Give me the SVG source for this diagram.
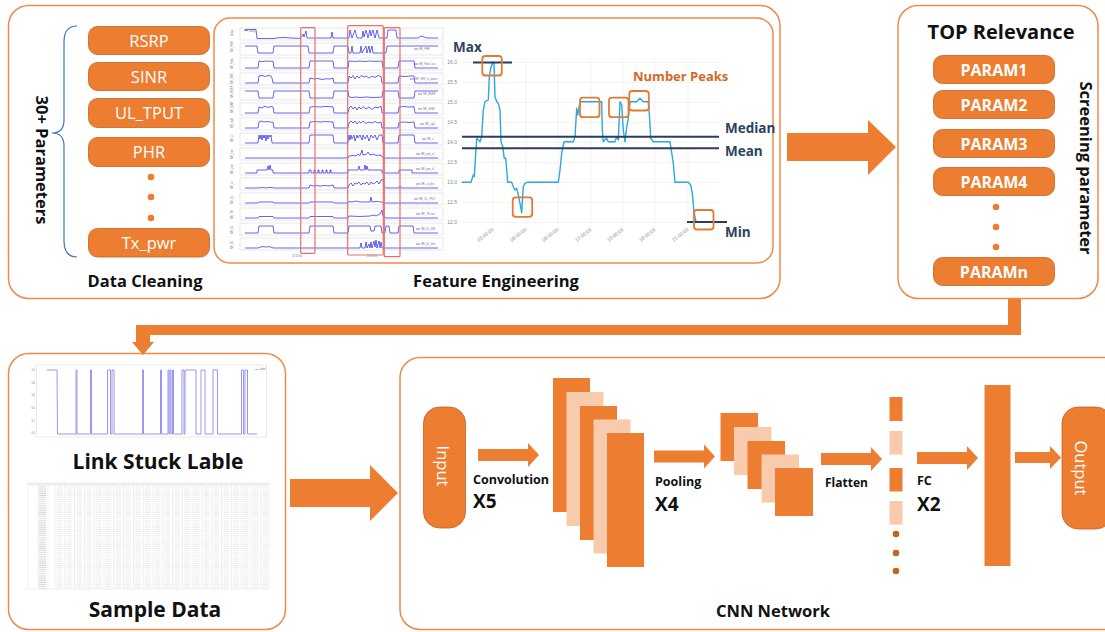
<svg xmlns="http://www.w3.org/2000/svg" width="1105" height="632" viewBox="0 0 1105 632">
  <style>
    .frame { fill: #ffffff; stroke: #EE8A4A; stroke-width: 1.5; }
    .pill { fill: #ED7D31; stroke: #C8621E; stroke-width: 0.8; }
    .dot { fill: #ED7D31; }
    .dark { fill: #C8621E; }
    .light { fill: #F8CBAD; }
    .orange { fill: #ED7D31; }
    .pt { font-family: "Open Sans", "Liberation Sans", sans-serif; font-size: 16.5px; fill: #ffffff; text-anchor: middle; }
    .pb { font-family: "Open Sans", "Liberation Sans", sans-serif; font-size: 16px; font-weight: bold; fill: #ffffff; text-anchor: middle; }
    .hd { font-family: "Open Sans", "Liberation Sans", sans-serif; font-weight: bold; fill: #111111; text-anchor: middle; }
    .cnn { font-family: "Open Sans", "Liberation Sans", sans-serif; font-weight: bold; fill: #111111; }
    .navy { font-family: "Open Sans", "Liberation Sans", sans-serif; font-weight: bold; font-size: 13.5px; fill: #2B4261; }
    .axis { font-family: "Liberation Sans", sans-serif; font-size: 5px; fill: #8a8a8a; }
    .tiny { font-family: "Liberation Sans", sans-serif; font-size: 2.6px; fill: #7a7a7a; }
    .pf { fill: #ffffff; stroke: #cfcfcf; stroke-width: 0.5; }
    .sig { fill: none; stroke: #2323E8; stroke-width: 0.7; stroke-linejoin: round; }
    .lg { stroke: #2323E8; stroke-width: 0.6; }
    .hl { fill: none; stroke: #E8706A; stroke-width: 1.2; }
    .grid { stroke: #e9e9e9; stroke-width: 0.6; }
    .stat { stroke: #2B3F5C; stroke-width: 2; }
    .peak { fill: none; stroke: #E07B35; stroke-width: 1.8; }
    .tgrid { stroke: #dcdcdc; stroke-width: 0.5; }
  </style>
  <defs>
    <!-- small arrow used between CNN stages -->
    <path id="arr" d="M0,-6 H50 V-12 L61,0 L50,12 V6 H0 Z"/>
    <pattern id="cells" patternUnits="userSpaceOnUse" x="55" y="486" width="9.8" height="2.12">
      <rect x="1.5" y="0.5" width="6" height="0.7" fill="#e4e4e4"/>
    </pattern>
    <pattern id="idx" patternUnits="userSpaceOnUse" x="38" y="486" width="10" height="2.12">
      <rect x="1" y="0.5" width="7" height="0.7" fill="#c4c4c4"/>
    </pattern>
  </defs>

  <!-- ===== Stage 1: data cleaning + feature engineering ===== -->
  <g id="stage-prepare">
    <rect class="frame" x="8.5" y="5.5" width="771.5" height="293" rx="20"/>

    <g id="param-list">
      <path d="M77,26 C68,26 64,32 64,42 V120 C64,128 60,133 52,133 C60,133 64,138 64,146 V241 C64,251 68,257 77,257" fill="none" stroke="#4472C4" stroke-width="1.2"/>
      <text class="hd" font-size="16.5" transform="translate(36,160) rotate(90)">30+ Parameters</text>
      <g id="p-rsrp"><rect class="pill" x="88.5" y="26.5" width="121" height="28" rx="9"/><text class="pt" x="149" y="46.5">RSRP</text></g>
      <g id="p-sinr"><rect class="pill" x="88.5" y="62.5" width="121" height="28" rx="9"/><text class="pt" x="149" y="82.5">SINR</text></g>
      <g id="p-ultput"><rect class="pill" x="88.5" y="98.5" width="121" height="29" rx="9"/><text class="pt" x="149" y="119">UL_TPUT</text></g>
      <g id="p-phr"><rect class="pill" x="88.5" y="137.5" width="121" height="29" rx="9"/><text class="pt" x="149" y="158">PHR</text></g>
      <circle class="dot" cx="151" cy="177" r="3.3"/>
      <circle class="dot" cx="151" cy="197" r="3.3"/>
      <circle class="dot" cx="151" cy="218" r="3.3"/>
      <g id="p-txpwr"><rect class="pill" x="88.5" y="228.5" width="121" height="28.5" rx="9"/><text class="pt" x="149" y="249">Tx_pwr</text></g>
      <text class="hd" font-size="16.5" x="145" y="287">Data Cleaning</text>
    </g>

    <g id="feature-engineering">
      <rect class="frame" x="214" y="18" width="559" height="245" rx="16"/>

      <!-- stacked KPI time series -->
      <g id="kpi-panels">
        <g transform="translate(0,28)">
          <rect class="pf" x="240" y="0" width="203" height="12"/>
          <path class="sig" d="M245,1.5 H256 L257,10.5 H275 L277,9.8 L285,9.5 L290,10 L300,10.3 L302,8 L303,6 L304,9 L306,3 L307,10 H331 L332,4 L333,10 H349 L350,2 L352,10 L355,2 L357,10 H362 L363,3 L364,9 L366,2 L368,10 L370,2 L371,8 L373,2 L375,10 L377,2 L379,10 H387 L388,2 H396 L397,10 H418 L421,8 L424,9 L427,10 H438"/>
          <line class="lg" x1="244" y1="2.6" x2="248" y2="2.6"/><text class="tiny" x="249" y="3.5">delay</text>
          <text class="tiny" transform="translate(233,8) rotate(-90)">delay</text>
        </g>
        <g transform="translate(0,43)">
          <rect class="pf" x="240" y="0" width="203" height="12"/>
          <path class="sig" d="M245,3 H257 L258,10 H273 L274,3 H308 L309,10 H333 L334,3 H348 L349,10 H351 L352,3 L353,10 H360 L361,3 L362,10 L366,3 L367,10 L369,3 L370,10 L372,3 L373,10 H386 L387,3 H438"/>
          <line class="lg" x1="414" y1="6" x2="418" y2="6"/><text class="tiny" x="419" y="7">NR_PHR</text>
          <text class="tiny" transform="translate(233,9) rotate(-90)">NR_PHR</text>
        </g>
        <g transform="translate(0,58)">
          <rect class="pf" x="240" y="0" width="203" height="12"/>
          <path class="sig" d="M245,10 H258 L259,3 L262,3.5 L266,3 L270,3.3 H273 L274,10 H309 L310,3 H333 L334,10 H348 L349,3 L355,3.4 L360,3 L365,3.5 L370,3 L375,3.4 L382,3 L383,10 H398 L399,3 H414 L415,10 H438"/>
          <line class="lg" x1="414" y1="6" x2="418" y2="6"/><text class="tiny" x="419" y="7">NR_Path Loss</text>
          <text class="tiny" transform="translate(233,11) rotate(-90)">NR_Path</text>
        </g>
        <g transform="translate(0,73)">
          <rect class="pf" x="240" y="0" width="203" height="12"/>
          <path class="sig" d="M245,10 H258 L259,3 L262,2.5 L265,3.5 L268,2.6 L271,3 L272,5 L273,10 H309 L310,5 L314,6 L318,5.5 L322,6.5 L326,5.8 L330,6 L333,5 L334,10 H348 L349,3 L351,5 L353,2.5 L355,6 L357,3 L359,5 L361,2.5 L364,4 L366,3 L369,5 L372,3 L375,4.5 L378,2.5 L381,3.5 L382,10 H398 L399,3 L405,3.5 L410,3 L414,3 L415,10 H438"/>
          <line class="lg" x1="410" y1="6" x2="414" y2="6"/><text class="tiny" x="415" y="7">NR_SRS_tx_power</text>
          <text class="tiny" transform="translate(233,11) rotate(-90)">NR_SRS</text>
        </g>
        <g transform="translate(0,88)">
          <rect class="pf" x="240" y="0" width="203" height="12"/>
          <path class="sig" d="M245,3 H258 L259,10 H273 L274,3 H309 L310,10 H333 L334,3 H348 L349,9 L352,9.5 L356,9 L360,9.6 L366,9 L372,9.5 L382,9.2 L383,3 H398 L399,10 H414 L415,3 H438"/>
          <line class="lg" x1="418" y1="6" x2="422" y2="6"/><text class="tiny" x="423" y="7">NR_RSRP</text>
          <text class="tiny" transform="translate(233,10) rotate(-90)">NR_RSRP</text>
        </g>
        <g transform="translate(0,103)">
          <rect class="pf" x="240" y="0" width="203" height="12"/>
          <path class="sig" d="M245,10 H258 L259,4 L262,5 L265,3 L268,4.5 L271,3.5 L273,4 L274,10 H309 L310,4 L315,3.5 L320,4 L325,3.5 L333,3.8 L334,10 H348 L349,5 L351,3 L353,6 L355,4 L357,7 L359,4 L361,6 L363,3.5 L366,6 L369,4 L372,6.5 L375,4 L378,5 L381,3 L382,10 H398 L399,4 L404,3.5 L409,4 L414,3.7 L415,10 H438"/>
          <line class="lg" x1="418" y1="6" x2="422" y2="6"/><text class="tiny" x="423" y="7">NR_SINR</text>
          <text class="tiny" transform="translate(233,10) rotate(-90)">NR_SINR</text>
        </g>
        <g transform="translate(0,118)">
          <rect class="pf" x="240" y="0" width="203" height="12"/>
          <path class="sig" d="M245,10 H258 L259,4 L261,3 L264,4 L267,3.5 L270,4 L273,4.2 L274,10 H309 L310,4 L315,3.5 L320,4 L325,3.6 L333,4 L334,10 H348 L349,5 L351,3 L353,5 L355,3 L357,6 L359,3.5 L361,5 L363,3 L366,5.5 L369,4 L372,5 L375,3.5 L378,5 L381,4 L382,10 H398 L399,4.5 L404,4 L409,4.5 L414,4 L415,10 H438"/>
          <line class="lg" x1="420" y1="6" x2="424" y2="6"/><text class="tiny" x="425" y="7">NR_cqi0</text>
          <text class="tiny" transform="translate(233,10) rotate(-90)">NR_cqi0</text>
        </g>
        <g transform="translate(0,133)">
          <rect class="pf" x="240" y="0" width="203" height="12"/>
          <path class="sig" d="M245,10 H258 L259,2 L260,6 L261,2 L262,7 L263,2 L264,5 L265,2 L266,8 L267,2 L268,6 L269,2 L270,4 L271,2 L272,10 H309 L310,2 H333 L334,10 H348 L349,2 L350,7 L351,2 L352,6 L354,2 L355,8 L357,2 L358,5 L360,2 L362,7 L363,2 L365,6 L367,2 L369,8 L371,2 L373,5 L375,2 L377,7 L379,2 L382,2 L383,10 H398 L399,2 H414 L415,10 H438"/>
          <line class="lg" x1="422" y1="6" x2="426" y2="6"/><text class="tiny" x="427" y="7">NR_ri</text>
          <text class="tiny" transform="translate(233,9) rotate(-90)">NR_ri</text>
        </g>
        <g transform="translate(0,148)">
          <rect class="pf" x="240" y="0" width="203" height="12"/>
          <path class="sig" d="M245,10 H348 L349,8 L353,7.5 L356,8 L358,6 L360,7.5 L362,2 L363,7 L366,6.5 L368,4 L370,7 L374,6 L376,7.5 L379,7 L382,8 L383,10 H438"/>
          <line class="lg" x1="416" y1="6" x2="420" y2="6"/><text class="tiny" x="421" y="7">NR_pmi_x1</text>
          <text class="tiny" transform="translate(233,11) rotate(-90)">NR_pmi</text>
        </g>
        <g transform="translate(0,163)">
          <rect class="pf" x="240" y="0" width="203" height="12"/>
          <path class="sig" d="M245,10 H257 V7 H267 L268,3 L269,7 L270,2 L271,7 H273 V10 H309 V7 H311 V10 H314 V7 H315 V10 H318 V7 H319 V10 H322 V7 H323 V10 H326 V7 H327 V10 H330 V7 H331 V10 H348 V7 H358 L359,3 L360,7 H364 L365,2 L366,7 L367,3 L368,7 H382 V10 H399 V7 H412 V10 H438"/>
          <line class="lg" x1="416" y1="6" x2="420" y2="6"/><text class="tiny" x="421" y="7">NR_pmi_x2</text>
          <text class="tiny" transform="translate(233,11) rotate(-90)">NR_pmi</text>
        </g>
        <g transform="translate(0,178)">
          <rect class="pf" x="240" y="0" width="203" height="12"/>
          <path class="sig" d="M245,10 H258 L262,9.5 L266,10 L270,9.3 L274,10 H309 L310,7 L313,8 L316,7.5 L320,8 L325,7.5 L329,8 L333,7 L334,10 H348 L349,7 L351,5 L353,8 L355,5 L357,6 L359,4 L361,7 L363,5 L365,6 L367,4 L369,7 L371,4 L373,6 L375,5 L377,3 L379,6 L381,2 L383,1.5 L384,9 L386,10 H399 L400,8 L401,10 H438"/>
          <line class="lg" x1="416" y1="6" x2="420" y2="6"/><text class="tiny" x="421" y="7">NR_ul_bler</text>
          <text class="tiny" transform="translate(233,11) rotate(-90)">NR_ul</text>
        </g>
        <g transform="translate(0,193)">
          <rect class="pf" x="240" y="0" width="203" height="12"/>
          <path class="sig" d="M245,10 H258 L259,9 H273 L274,10 H309 L310,9 H333 L334,10 H348 L349,8.5 L352,9 L356,8 L360,9 H370 L371,4 L372,9 L376,8.5 L382,9 L383,10 H438"/>
          <line class="lg" x1="414" y1="6" x2="418" y2="6"/><text class="tiny" x="419" y="7">NR_UL_TPUT</text>
          <text class="tiny" transform="translate(233,11) rotate(-90)">NR_UL</text>
        </g>
        <g transform="translate(0,208)">
          <rect class="pf" x="240" y="0" width="203" height="12"/>
          <path class="sig" d="M245,10 H258 L259,8.5 H273 L274,10 H309 L310,8.5 H333 L334,10 H348 L349,8 L360,8.5 L370,8 L374,7 L376,8 L380,6 L382,2 L383,8 L386,10 H438"/>
          <line class="lg" x1="416" y1="6" x2="420" y2="6"/><text class="tiny" x="421" y="7">NR_TB size</text>
          <text class="tiny" transform="translate(233,11) rotate(-90)">NR_TB</text>
        </g>
        <g transform="translate(0,223)">
          <rect class="pf" x="240" y="0" width="203" height="12"/>
          <path class="sig" d="M245,10 H258 L259,3 H273 L274,10 H309 L310,3 H333 L334,10 H348 L349,3 H370 L371,8 H374 L375,3 H381 L382,10 H385 L386,3 H389 L390,10 H398 L399,3 H413 L414,10 H438"/>
          <line class="lg" x1="416" y1="6" x2="420" y2="6"/><text class="tiny" x="421" y="7">NR_UL_BW</text>
          <text class="tiny" transform="translate(233,11) rotate(-90)">NR_UL</text>
        </g>
        <g transform="translate(0,238)">
          <rect class="pf" x="240" y="0" width="203" height="12"/>
          <path class="sig" d="M245,10 H258 L262,8.5 L266,9 L270,8.7 L273,10 H360 L361,5 L362,10 H365 L366,4 L367,10 L369,6 L370,10 L371,4 L372,10 L374,3 L375,9 L376,2 L377,10 L379,3 L380,10 L381,4 L382,10 H438"/>
          <line class="lg" x1="416" y1="6" x2="420" y2="6"/><text class="tiny" x="421" y="7">NR_DL_bler</text>
          <text class="tiny" transform="translate(233,11) rotate(-90)">NR_DL</text>
        </g>
        <text class="tiny" x="297" y="256.5" text-anchor="middle">23 14:00</text>
        <text class="tiny" x="372" y="256.5" text-anchor="middle">24 14:00</text>
        <!-- highlighted windows -->
        <rect class="hl" x="300.7" y="27.7" width="14.3" height="225.6" rx="1"/>
        <rect class="hl" x="347.7" y="25.7" width="35.6" height="229.3" rx="1"/>
        <rect class="hl" x="384.3" y="27.7" width="15.7" height="229" rx="1"/>
      </g>

      <!-- single KPI with statistical features -->
      <g id="stat-chart">
        <g class="grid">
          <line x1="462" y1="62.3" x2="720" y2="62.3"/>
          <line x1="462" y1="82.3" x2="720" y2="82.3"/>
          <line x1="462" y1="102.3" x2="720" y2="102.3"/>
          <line x1="462" y1="122.3" x2="720" y2="122.3"/>
          <line x1="462" y1="142.3" x2="720" y2="142.3"/>
          <line x1="462" y1="162.3" x2="720" y2="162.3"/>
          <line x1="462" y1="182.3" x2="720" y2="182.3"/>
          <line x1="462" y1="202.3" x2="720" y2="202.3"/>
          <line x1="462" y1="222.3" x2="720" y2="222.3"/>
          <line x1="493" y1="60" x2="493" y2="224"/>
          <line x1="526" y1="60" x2="526" y2="224"/>
          <line x1="558" y1="60" x2="558" y2="224"/>
          <line x1="591" y1="60" x2="591" y2="224"/>
          <line x1="623" y1="60" x2="623" y2="224"/>
          <line x1="655" y1="60" x2="655" y2="224"/>
          <line x1="688" y1="60" x2="688" y2="224"/>
        </g>
        <g class="axis" text-anchor="end">
          <text x="457" y="64">16.0</text>
          <text x="457" y="84">15.5</text>
          <text x="457" y="104">15.0</text>
          <text x="457" y="124">14.5</text>
          <text x="457" y="144">14.0</text>
          <text x="457" y="164">13.5</text>
          <text x="457" y="184">13.0</text>
          <text x="457" y="204">12.5</text>
          <text x="457" y="224">12.0</text>
          <text transform="translate(494,230) rotate(-38)">03:00:00</text>
          <text transform="translate(527,230) rotate(-38)">06:00:00</text>
          <text transform="translate(559,230) rotate(-38)">09:00:00</text>
          <text transform="translate(592,230) rotate(-38)">12:00:00</text>
          <text transform="translate(624,230) rotate(-38)">15:00:00</text>
          <text transform="translate(656,230) rotate(-38)">18:00:00</text>
          <text transform="translate(689,230) rotate(-38)">21:00:00</text>
        </g>
        <polyline fill="none" stroke="#2EA6DF" stroke-width="1.4" stroke-linejoin="round" points="461.7,182.3 471,182.3 473.3,175 474.3,176.7 476.7,138.3 478.3,140 480,141.7 481.7,136.7 483.3,110 485,101.7 488.3,100 489.3,76.7 490.7,68.3 492.7,62.3 494,63.3 495,96.7 496.7,101.7 498.3,103.3 500,110 501,141.7 502.7,146.7 504.3,158.3 505.7,158.3 507.7,182.3 511.7,182.3 513.3,186.7 515,190 516.7,188.3 518.3,195 520,203.3 521.7,212.7 523.3,186.7 525,183.3 527.3,182.3 558.3,182.3 560,170 561.7,153.3 564,141.7 573.3,141.7 575,136.7 576.7,108.3 577.7,115 580,101.7 601.7,101.7 602.3,130 603.3,141.7 606.7,138.3 608.3,141.7 615,141.7 616.7,136.7 618.3,140 620,101.7 621.7,105 623.3,130 625,141.7 626.7,126.7 628.3,118.3 630,101.7 636.7,101.7 640,98.3 643.3,101.7 648.3,101.7 649.3,113.3 650.7,138.3 653.3,141.7 670,141.7 673.3,163.3 675,182.3 688.3,182.3 690.7,185 692.3,193.3 694,211.7 696,222"/>
        <line class="stat" x1="473" y1="62.5" x2="512" y2="62.5"/>
        <line class="stat" x1="687" y1="222" x2="727" y2="222"/>
        <line class="stat" x1="462" y1="136.7" x2="719" y2="136.7"/>
        <line class="stat" x1="462" y1="148.3" x2="719" y2="148.3"/>
        <rect class="peak" x="482.3" y="56" width="19.5" height="19.5" rx="3"/>
        <rect class="peak" x="512.7" y="197.3" width="19.5" height="19.5" rx="3"/>
        <rect class="peak" x="580" y="97.7" width="19.5" height="19.5" rx="3"/>
        <rect class="peak" x="609" y="97.7" width="19.5" height="19.5" rx="3"/>
        <rect class="peak" x="629.3" y="91" width="19.5" height="19.5" rx="3"/>
        <rect class="peak" x="694" y="210" width="19.5" height="19.5" rx="3"/>
        <text class="navy" x="453" y="52">Max</text>
        <text class="navy" x="725" y="133">Median</text>
        <text class="navy" x="725" y="156">Mean</text>
        <text class="navy" x="725" y="237">Min</text>
        <text x="633" y="81" font-family="Open Sans, Liberation Sans, sans-serif" font-weight="bold" font-size="13" fill="#D06A28">Number Peaks</text>
      </g>
      <text class="hd" font-size="16.5" x="496" y="287">Feature Engineering</text>
    </g>
  </g>

  <!-- ===== Stage 2: relevance screening ===== -->
  <g id="stage-screening">
    <rect class="frame" x="898" y="5.5" width="200" height="293" rx="20"/>
    <text class="hd" font-size="20" x="1001" y="39">TOP Relevance</text>
    <g id="param1"><rect class="pill" x="933.5" y="55.5" width="121" height="28" rx="9"/><text class="pb" x="994" y="75.5">PARAM1</text></g>
    <g id="param2"><rect class="pill" x="933.5" y="90.5" width="121" height="28" rx="9"/><text class="pb" x="994" y="110.5">PARAM2</text></g>
    <g id="param3"><rect class="pill" x="933.5" y="129.5" width="121" height="28" rx="9"/><text class="pb" x="994" y="149.5">PARAM3</text></g>
    <g id="param4"><rect class="pill" x="933.5" y="167.5" width="121" height="28" rx="9"/><text class="pb" x="994" y="187.5">PARAM4</text></g>
    <circle class="dot" cx="996" cy="207" r="3.3"/>
    <circle class="dot" cx="996" cy="227" r="3.3"/>
    <circle class="dot" cx="996" cy="247" r="3.3"/>
    <g id="paramn"><rect class="pill" x="933.5" y="257.5" width="121" height="28" rx="9"/><text class="pb" x="994" y="277.5">PARAMn</text></g>
    <text class="hd" font-size="16.5" transform="translate(1080,168) rotate(90)">Screening parameter</text>
  </g>

  <!-- ===== Stage 3: labels and samples ===== -->
  <g id="stage-dataset">
    <rect class="frame" x="8.5" y="353.5" width="277" height="276" rx="20"/>
    <g id="label-chart">
      <rect x="36.7" y="365" width="230" height="72" fill="#ffffff" stroke="#dddddd" stroke-width="0.6"/>
      <g class="tiny" text-anchor="end" font-size="2.4">
        <text x="35" y="370.8">1.0</text>
        <text x="35" y="383.5">0.8</text>
        <text x="35" y="396.2">0.6</text>
        <text x="35" y="408.9">0.4</text>
        <text x="35" y="421.6">0.2</text>
        <text x="35" y="434.3">0.0</text>
      </g>
      <path d="M47,370 H57 L57.5,434 H76 V370 H77 V434 H90.5 V370 H91.5 V434 H107.5 V370 H110.5 V434 H112 V370 H114 V434 H142.5 V370 H143.5 V434 H160.5 V370 H161.5 V434 H168 V370 H169 V434 H170 V370 H171 V434 H172.5 V370 H173.5 V434 H182 V370 H184 V434 H185 V370 H196 V434 H201 V370 H205 V434 H213 V370 H217.5 V434 H241.5 V370 H243.5 V434 H245 V370 H247.5 V434 H257" fill="none" stroke="#8C8CF2" stroke-width="0.9"/>
      <line x1="255" y1="369.5" x2="259" y2="369.5" stroke="#8C8CF2" stroke-width="0.6"/>
      <text class="tiny" x="260" y="370.4" font-size="2.4">label</text>
    </g>
    <text class="hd" font-size="21" x="158" y="469">Link Stuck Lable</text>
    <g id="sample-table">
      <rect x="28" y="483" width="241" height="106" fill="#ffffff" stroke="#e3e3e3" stroke-width="0.5"/>
      <rect x="28" y="483" width="241" height="2.5" fill="#eeeeee"/>
      <rect x="38" y="486" width="10" height="103" fill="url(#idx)"/>
      <rect x="55" y="486" width="214" height="103" fill="url(#cells)"/>
      <g class="tgrid">
        <line x1="38" y1="483" x2="38" y2="589"/>
        <line x1="48" y1="483" x2="48" y2="589"/>
        <line x1="55" y1="483" x2="55" y2="589"/>
        <line x1="64.8" y1="483" x2="64.8" y2="589"/>
        <line x1="74.6" y1="483" x2="74.6" y2="589"/>
        <line x1="84.4" y1="483" x2="84.4" y2="589"/>
        <line x1="94.2" y1="483" x2="94.2" y2="589"/>
        <line x1="104" y1="483" x2="104" y2="589"/>
        <line x1="113.8" y1="483" x2="113.8" y2="589"/>
        <line x1="123.6" y1="483" x2="123.6" y2="589"/>
        <line x1="133.4" y1="483" x2="133.4" y2="589"/>
        <line x1="143.2" y1="483" x2="143.2" y2="589"/>
        <line x1="153" y1="483" x2="153" y2="589"/>
        <line x1="162.8" y1="483" x2="162.8" y2="589"/>
        <line x1="172.6" y1="483" x2="172.6" y2="589"/>
        <line x1="182.4" y1="483" x2="182.4" y2="589"/>
        <line x1="192.2" y1="483" x2="192.2" y2="589"/>
        <line x1="202" y1="483" x2="202" y2="589"/>
        <line x1="211.8" y1="483" x2="211.8" y2="589"/>
        <line x1="221.6" y1="483" x2="221.6" y2="589"/>
        <line x1="231.4" y1="483" x2="231.4" y2="589"/>
        <line x1="241.2" y1="483" x2="241.2" y2="589"/>
        <line x1="251" y1="483" x2="251" y2="589"/>
        <line x1="260.8" y1="483" x2="260.8" y2="589"/>
      </g>
    </g>
    <text class="hd" font-size="21" x="155" y="617">Sample Data</text>
  </g>

  <!-- ===== Stage 4: CNN ===== -->
  <g id="stage-cnn">
    <rect class="frame" x="400" y="357.5" width="730" height="272" rx="20"/>
    <g id="cnn-input">
      <rect class="pill" x="423.5" y="407" width="42" height="121" rx="16"/>
      <text class="pt" font-size="16" transform="translate(437,466) rotate(90)">Input</text>
    </g>
    <g id="cnn-conv">
      <rect class="orange" x="553" y="378" width="37" height="134"/>
      <rect class="light" x="566.5" y="392" width="37" height="134"/>
      <rect class="orange" x="580" y="406" width="37" height="134"/>
      <rect class="light" x="593.5" y="419.5" width="37" height="134"/>
      <rect class="orange" x="607" y="433" width="37" height="134"/>
      <text class="cnn" font-size="12.5" x="473" y="484">Convolution</text>
      <text class="cnn" font-size="19" x="473" y="508">X5</text>
    </g>
    <g id="cnn-pool">
      <rect class="orange" x="720.5" y="413" width="37.5" height="48"/>
      <rect class="light" x="734" y="427" width="37.5" height="48"/>
      <rect class="orange" x="747.5" y="441" width="37.5" height="48"/>
      <rect class="light" x="761.5" y="454.5" width="37.5" height="48"/>
      <rect class="orange" x="775" y="468" width="38" height="48"/>
      <text class="cnn" font-size="12.5" x="655" y="486">Pooling</text>
      <text class="cnn" font-size="19" x="655" y="511">X4</text>
    </g>
    <g id="cnn-flatten">
      <rect class="orange" x="889.5" y="397" width="13" height="24"/>
      <rect class="light" x="889.5" y="431" width="13" height="23.5"/>
      <rect class="orange" x="889.5" y="468" width="13" height="23.5"/>
      <rect class="light" x="889.5" y="501" width="13" height="23.5"/>
      <circle class="dark" cx="896" cy="534" r="3.3"/>
      <circle class="dark" cx="896" cy="553" r="3.3"/>
      <circle class="dark" cx="896" cy="571" r="3.3"/>
      <text class="cnn" font-size="12" x="825" y="487" fill="#333333" font-weight="600">Flatten</text>
    </g>
    <g id="cnn-fc">
      <rect class="orange" x="984.5" y="385" width="26" height="181"/>
      <text class="cnn" font-size="12.5" x="917" y="485">FC</text>
      <text class="cnn" font-size="19" x="917" y="511">X2</text>
    </g>
    <g id="cnn-output">
      <rect class="pill" x="1062" y="407" width="50" height="122" rx="16"/>
      <text class="pt" font-size="16" transform="translate(1075,468) rotate(90)">Output</text>
    </g>
    <text class="cnn" font-size="16.5" x="773" y="617" text-anchor="middle" font-weight="600">CNN Network</text>
  </g>

  <!-- ===== Connectors ===== -->
  <g id="connectors" fill="#ED7D31">
    <polygon points="787,133 868,133 868,120 896,147 868,175 868,161 787,161"/>
    <polygon points="1008,299 1021,299 1021,335 150,335 150,342 154,342 143,355 132,342 136,342 136,325 1008,325"/>
    <polygon points="290,479 370,479 370,465 398,493 370,521 370,507 290,507"/>
    <use href="#arr" transform="translate(478,455)"/>
    <use href="#arr" transform="translate(654,456.5)"/>
    <use href="#arr" transform="translate(821,459)"/>
    <use href="#arr" transform="translate(917,458)"/>
    <path d="M1015,452 H1050 V446 L1061,457.5 L1050,469 V463 H1015 Z"/>
  </g>
</svg>
